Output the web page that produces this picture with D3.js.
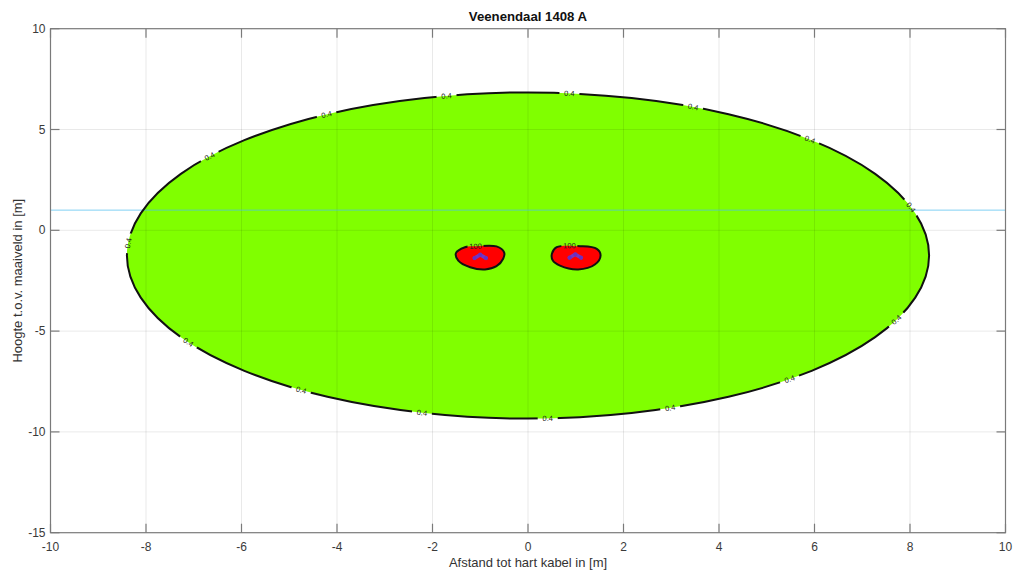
<!DOCTYPE html>
<html><head><meta charset="utf-8">
<script src="https://cdn.jsdelivr.net/npm/d3@7"></script>
<style>body{margin:0;background:#fff;} svg{display:block;font-family:"Liberation Sans",Arial,Helvetica,sans-serif;}</style>
</head><body><svg id="c" width="1019" height="572"></svg>
<script>
const title = "Veenendaal 1408 A";
const xLabel = "Afstand tot hart kabel in [m]";
const yLabel = "Hoogte t.o.v. maaiveld in [m]";
const xTicks = [-10,-8,-6,-4,-2,0,2,4,6,8,10];
const yTicks = [-15,-10,-5,0,5,10];
const outerLevel = "0.4";
const innerLevel = "100";
// 0.4 contour
const outerContour = [
  [8.40,-1.25],[8.11,0.84],[7.27,2.80],[5.94,4.47],[4.20,5.76],[2.17,6.56],
  [0,6.84],[-2.17,6.56],[-4.20,5.76],[-5.94,4.47],[-7.27,2.80],[-8.11,0.84],
  [-8.40,-1.25],[-8.11,-3.34],[-7.27,-5.30],[-5.94,-6.97],[-4.20,-8.26],[-2.17,-9.06],
  [0,-9.34],[2.17,-9.06],[4.20,-8.26],[5.94,-6.97],[7.27,-5.30],[8.11,-3.34]
];
// 100 contours around the cables
const leftBlob = [
  [-1.32,-0.84],[-1.07,-0.79],[-0.66,-0.80],[-0.50,-1.09],[-0.52,-1.41],
  [-0.66,-1.78],[-0.90,-1.94],[-1.21,-1.83],[-1.46,-1.50],[-1.51,-1.14]
];
const rightBlob = [
  [0.60,-0.84],[1.09,-0.79],[1.44,-0.92],[1.52,-1.25],[1.40,-1.70],
  [1.05,-1.94],[0.67,-1.75],[0.52,-1.50],[0.50,-1.17]
];
const outerLabelPos = [
  [-1.70,6.66],[0.88,6.74],[3.46,6.03],[5.90,4.41],[7.99,1.07],[7.71,-4.48],
  [5.48,-7.45],[2.97,-8.91],[0.42,-9.40],[-2.22,-9.11],[-4.77,-7.99],[-7.13,-5.63],
  [-8.34,-0.67],[-6.65,3.63],[-4.21,5.73]
];
const innerLabelPos = [[-1.11,-0.79],[0.88,-0.79]];
const cablesLeft = [[-1.12,-1.38],[-1.0,-1.21],[-0.88,-1.38]];
const cablesRight = [[0.87,-1.36],[0.99,-1.19],[1.11,-1.36]];
const refLineY = [1];

const W = 1019, H = 572;
const x = d3.scaleLinear().domain([-10,10]).range([50.5,1005.5]);
const y = d3.scaleLinear().domain([-15,10]).range([532.7,28.7]);
const svg = d3.select("#c");
svg.append("rect").attr("width",W).attr("height",H).attr("fill","#fff");

const lineOuter = d3.line().x(d=>x(d[0])).y(d=>y(d[1])).curve(d3.curveCardinalClosed.tension(0));
const lineBlob = d3.line().x(d=>x(d[0])).y(d=>y(d[1])).curve(d3.curveCatmullRomClosed.alpha(0.5));

const defs = svg.append("defs");
const clip = defs.append("clipPath").attr("id","plotclip");
clip.append("rect").attr("x",x(-10)).attr("y",y(10)).attr("width",x(10)-x(-10)).attr("height",y(-15)-y(10));

const plot = svg.append("g").attr("clip-path","url(#plotclip)");
const outerPath = plot.append("path").attr("d",lineOuter(outerContour)).attr("fill","#80ff00");
const blobs = [leftBlob,rightBlob].map(b=>plot.append("path").attr("d",lineBlob(b)).attr("fill","#ff0000"));

// grid
const grid = svg.append("g").attr("stroke","#000").attr("stroke-opacity",0.085).attr("stroke-width",1);
xTicks.slice(1,-1).forEach(t=>grid.append("line").attr("x1",x(t)).attr("x2",x(t)).attr("y1",y(10)).attr("y2",y(-15)));
yTicks.slice(1,-1).forEach(t=>grid.append("line").attr("y1",y(t)).attr("y2",y(t)).attr("x1",x(-10)).attr("x2",x(10)));

// reference line
refLineY.forEach(v=>svg.append("line").attr("x1",x(-10)).attr("x2",x(10)).attr("y1",y(v)).attr("y2",y(v))
  .attr("stroke","#4dbeee").attr("stroke-opacity",0.7).attr("stroke-width",1));

function snap(node, px, py){
  const L = node.getTotalLength(); let best=0, bd=Infinity;
  for(let s=0;s<=L;s+=1.5){const p=node.getPointAtLength(s);const d=(p.x-px)**2+(p.y-py)**2;if(d<bd){bd=d;best=s;}}
  const p=node.getPointAtLength(best);
  const a=node.getPointAtLength((best-3+L)%L), b=node.getPointAtLength((best+3)%L);
  let ang=Math.atan2(b.y-a.y,b.x-a.x)*180/Math.PI;
  if(ang>90)ang-=180; if(ang<-90)ang+=180;
  return {x:p.x,y:p.y,ang};
}
const outerLabels = outerLabelPos.map(d=>snap(outerPath.node(), x(d[0]), y(d[1])));
const innerLabels = innerLabelPos.map((d,i)=>snap(blobs[i].node(), x(d[0]), y(d[1])));

const mask = defs.append("mask").attr("id","gaps").attr("maskUnits","userSpaceOnUse")
  .attr("x",0).attr("y",0).attr("width",W).attr("height",H);
mask.append("rect").attr("width",W).attr("height",H).attr("fill","#fff");
outerLabels.forEach(l=>mask.append("rect").attr("x",-10).attr("y",-5).attr("width",20).attr("height",10)
  .attr("fill","#000").attr("transform",`translate(${l.x},${l.y}) rotate(${l.ang})`));
innerLabels.forEach(l=>mask.append("rect").attr("x",-8).attr("y",-5).attr("width",16).attr("height",10)
  .attr("fill","#000").attr("transform",`translate(${l.x},${l.y}) rotate(${l.ang})`));

const strokes = svg.append("g").attr("mask","url(#gaps)").attr("fill","none").attr("stroke","#111").attr("stroke-width",2);
strokes.append("path").attr("d",lineOuter(outerContour));
[leftBlob,rightBlob].forEach(b=>strokes.append("path").attr("d",lineBlob(b)));

const lab = svg.append("g").attr("font-size",7.5).attr("fill","#222").attr("text-anchor","middle");
outerLabels.forEach(l=>lab.append("text").attr("transform",`translate(${l.x},${l.y}) rotate(${l.ang})`).attr("dy","0.35em").text(outerLevel));
innerLabels.forEach(l=>lab.append("text").attr("transform",`translate(${l.x},${l.y}) rotate(${l.ang})`).attr("dy","0.35em").text(innerLevel));

// cables
const cableLine = d3.line().x(d=>x(d[0])).y(d=>y(d[1]));
[cablesLeft,cablesRight].forEach(c=>{
  svg.append("path").attr("d",cableLine(c)).attr("fill","none").attr("stroke","#7436c4").attr("stroke-width",3.6).attr("stroke-linecap","round").attr("stroke-linejoin","round");
  c.forEach(p=>svg.append("circle").attr("cx",x(p[0])).attr("cy",y(p[1])).attr("r",2.1).attr("fill","#6a30c0"));
});

// axes box and ticks
const ax = svg.append("g").attr("stroke","#7a7a7a").attr("stroke-width",1.2).attr("fill","none");
ax.append("rect").attr("x",x(-10)).attr("y",y(10)).attr("width",x(10)-x(-10)).attr("height",y(-15)-y(10));
const tl = 9;
xTicks.forEach(t=>{
  ax.append("line").attr("x1",x(t)).attr("x2",x(t)).attr("y1",y(-15)).attr("y2",y(-15)-tl);
  ax.append("line").attr("x1",x(t)).attr("x2",x(t)).attr("y1",y(10)).attr("y2",y(10)+tl);
});
yTicks.forEach(t=>{
  ax.append("line").attr("y1",y(t)).attr("y2",y(t)).attr("x1",x(-10)).attr("x2",x(-10)+tl);
  ax.append("line").attr("y1",y(t)).attr("y2",y(t)).attr("x1",x(10)).attr("x2",x(10)-tl);
});
const tx = svg.append("g").attr("font-size",12).attr("fill","#3a3a3a");
xTicks.forEach(t=>tx.append("text").attr("x",x(t)).attr("y",y(-15)+18).attr("text-anchor","middle").text(t));
yTicks.forEach(t=>tx.append("text").attr("x",x(-10)-5).attr("y",y(t)+4).attr("text-anchor","end").text(t));

svg.append("text").attr("x",(x(-10)+x(10))/2).attr("y",567).attr("text-anchor","middle")
  .attr("font-size",13).attr("fill","#333").text(xLabel);
svg.append("text").attr("transform",`translate(22,${(y(10)+y(-15))/2}) rotate(-90)`).attr("text-anchor","middle")
  .attr("font-size",13).attr("fill","#333").text(yLabel);
svg.append("text").attr("x",(x(-10)+x(10))/2).attr("y",21).attr("text-anchor","middle")
  .attr("font-size",13.2).attr("font-weight","bold").attr("fill","#111").text(title);
</script></body></html>
